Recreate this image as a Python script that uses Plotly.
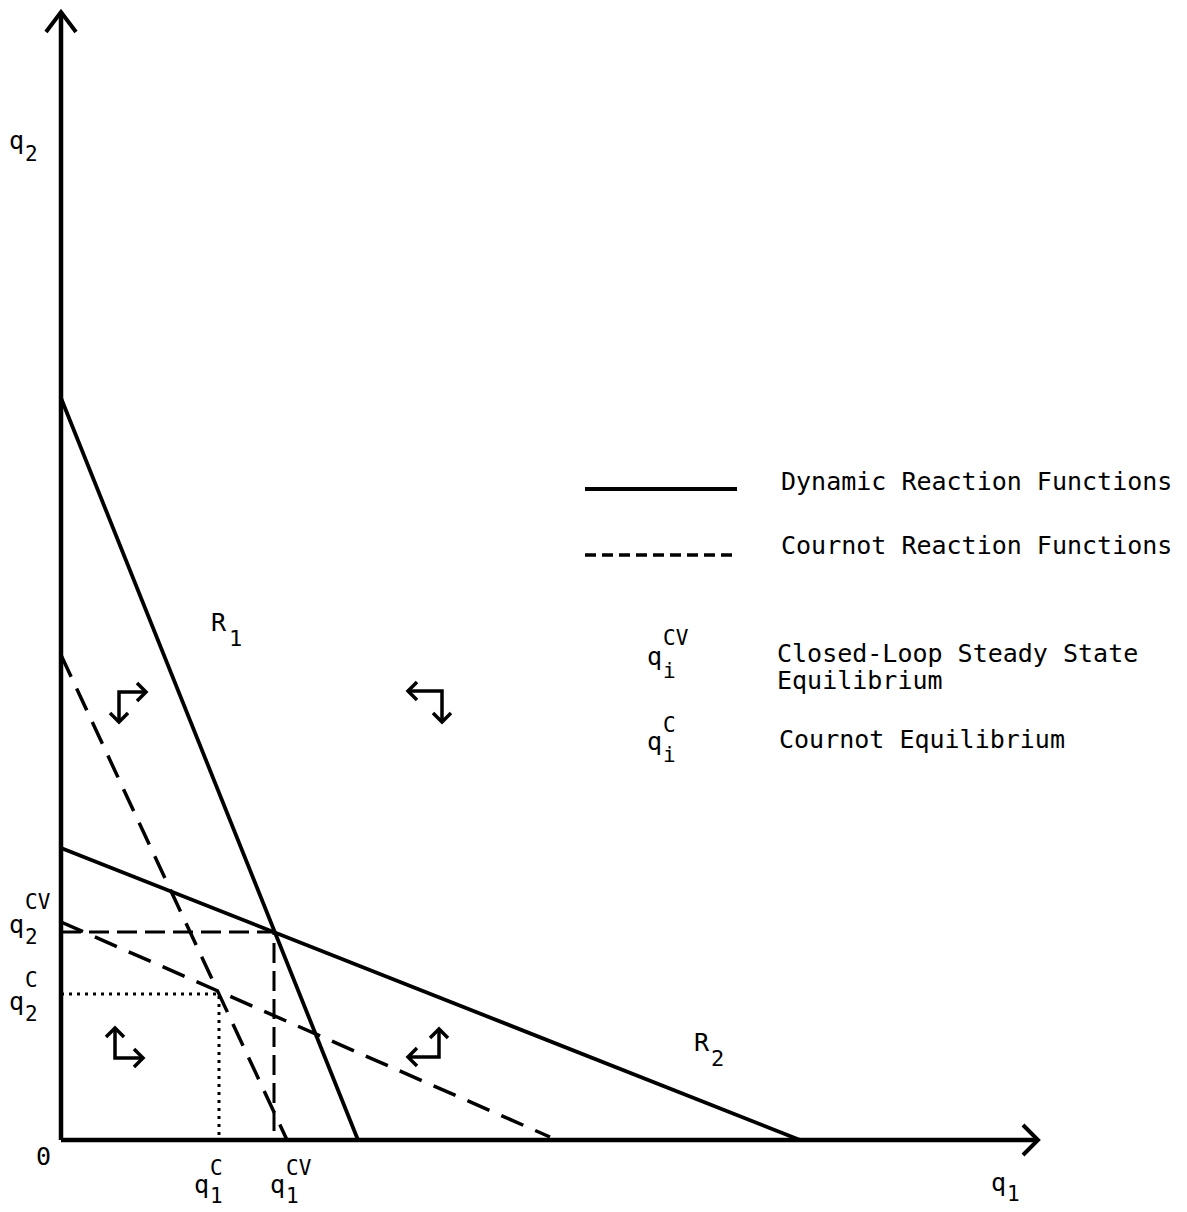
import plotly.graph_objects as go

# ---------------- data (quantities, in diagram units) ----------------
# Dynamic (closed-loop) reaction functions: intercepts
dyn_R1_x = [0, 297]
dyn_R1_y = [742, 0]
dyn_R2_x = [0, 739]
dyn_R2_y = [292, 0]
# Cournot reaction functions
cour_R1_x = [0, 226]
cour_R1_y = [485, 0]
cour_R2_x = [0, 489]
cour_R2_y = [218, 3]
# Equilibria
q1_cv, q2_cv = 213, 208
q1_c, q2_c = 158, 146
# Axis extents
x_axis_end = 977
y_axis_end = 1128
# Adjustment-direction glyphs: corner (q1, q2), horizontal dir, vertical dir
glyph_q1 = [58, 381, 54, 378]
glyph_q2 = [448, 449, 82, 83]
glyph_hdir = [1, -1, 1, -1]
glyph_vdir = [-1, -1, 1, 1]
glyph_hlen = [27, 34, 28, 31]
glyph_vlen = [30, 31, 30, 28]

legend_labels = ["Dynamic Reaction Functions", "Cournot Reaction Functions"]

# ---------------- figure ----------------
W, H = 1187, 1212
OX, OY = 61, 1140  # pixel position of origin on the page
BODY = 8           # default page margin around the plot div


def P(xp, yp):
    return xp - OX, OY - yp


FONT = "DejaVu Sans Mono"
BLACK = "#000000"
fig = go.Figure()


def line(x, y, width=3.5, dash="solid"):
    fig.add_trace(go.Scatter(x=x, y=y, mode="lines", hoverinfo="skip",
                             line=dict(color=BLACK, width=width, dash=dash)))


# axes
line([0, 0], [0, y_axis_end], width=4.5)
line([0, x_axis_end], [0, 0], width=4.5)
# axis arrowheads
line([-15, 0, 15], [y_axis_end - 20, y_axis_end, y_axis_end - 20], width=4)
line([x_axis_end - 15, x_axis_end, x_axis_end - 15], [15, 0, -15], width=4)

# reaction functions
line(dyn_R1_x, dyn_R1_y, width=3.8)
line(dyn_R2_x, dyn_R2_y, width=3.8)
line(cour_R1_x, cour_R1_y, width=3.5, dash="24px,13px")
line(cour_R2_x, cour_R2_y, width=3.5, dash="24px,13px")

# equilibrium projections
line([0, q1_cv, q1_cv], [q2_cv, q2_cv, 0], width=3, dash="20px,8px")
line([0, q1_c, q1_c], [q2_c, q2_c, 0], width=3, dash="3px,5px")

# direction glyphs
AH = 9
for cx, cy, hd, vd, hl, vl in zip(glyph_q1, glyph_q2, glyph_hdir, glyph_vdir, glyph_hlen, glyph_vlen):
    hx = cx + hd * hl
    vy = cy + vd * vl
    line([hx, cx, cx], [cy, cy, vy], width=3.5)
    line([hx - hd * AH, hx, hx - hd * AH], [cy + AH, cy, cy - AH], width=3.5)
    line([cx - AH, cx, cx + AH], [vy - vd * AH, vy, vy - vd * AH], width=3.5)

# legend samples
lx0, ly0 = P(585, 489)
lx1, _ = P(737, 489)
_, ly1 = P(585, 555)
line([lx0, lx1], [ly0, ly0], width=4)
line([lx0, lx1], [ly1, ly1], width=3.5, dash="11px,6px")

annotations = []


def txt(xp, yp, s, size=25, anchor="left"):
    x, y = P(xp, yp)
    annotations.append(dict(x=x, y=y, text=s, showarrow=False, xanchor=anchor,
                            yanchor="middle", borderpad=0,
                            font=dict(family=FONT, size=size, color=BLACK)))


def qsym(base, xc, yc, sup=None, sub=None, sup_y=None, sub_y=None,
         size=25, ssize=21):
    txt(xc, yc, base, size=size, anchor="center")
    if sup:
        txt(xc + 8, sup_y, sup, size=ssize)
    if sub:
        txt(xc + 8, sub_y, sub, size=ssize)


txt(780, 481, legend_labels[0])
txt(780, 545, legend_labels[1])
txt(776, 653, "Closed-Loop Steady State")
txt(776, 680, "Equilibrium")
txt(778, 739, "Cournot Equilibrium")

qsym("q", 654, 656, sup="CV", sub="i", sup_y=638, sub_y=671)
qsym("q", 654, 741, sup="C", sub="i", sup_y=725, sub_y=755)

# R labels
txt(219, 622, "R", anchor="center")
txt(228, 638, "1", size=22)
txt(702, 1042, "R", anchor="center")
txt(710, 1058, "2", size=22)

# axis labels
qsym("q", 16, 140, sub="2", sub_y=154)
qsym("q", 998, 1182, sub="1", sub_y=1194)
txt(43, 1156, "0", anchor="center")

qsym("q", 16, 924, sup="CV", sub="2", sup_y=902, sub_y=937)
qsym("q", 16, 1001, sup="C", sub="2", sup_y=980, sub_y=1014)
qsym("q", 201, 1184, sup="C", sub="1", sup_y=1168, sub_y=1196)
qsym("q", 277, 1184, sup="CV", sub="1", sup_y=1168, sub_y=1196)

fig.update_layout(
    width=W - BODY, height=H - BODY, autosize=False,
    margin=dict(l=0, r=0, t=0, b=0, pad=0),
    paper_bgcolor="white", plot_bgcolor="white",
    showlegend=False,
    annotations=annotations,
    xaxis=dict(range=[BODY - OX, W - OX], visible=False, fixedrange=True),
    yaxis=dict(range=[OY - H, OY - BODY], visible=False, fixedrange=True),
)

fig.write_html("out.html")
